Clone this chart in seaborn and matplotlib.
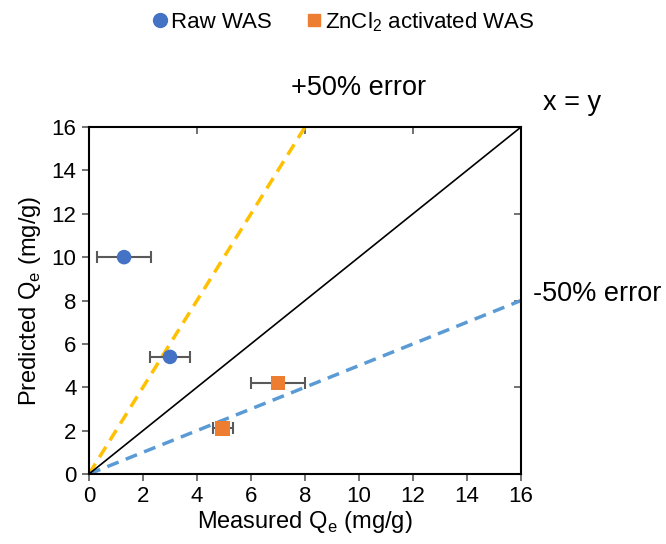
import matplotlib
matplotlib.use("Agg")
import matplotlib.pyplot as plt
import seaborn as sns
import pandas as pd
from matplotlib.lines import Line2D

# Data
raw_measured = [1.3, 3.0]
raw_predicted = [10.0, 5.4]
raw_xerr = [1.0, 0.75]

zn_measured = [7.0, 4.95]
zn_predicted = [4.2, 2.1]
zn_xerr = [1.0, 0.37]

line_xy_x = [0, 16]
line_xy_y = [0, 16]
line_plus_x = [0, 8]
line_plus_y = [0, 16]
line_minus_x = [0, 16]
line_minus_y = [0, 8]

axis_ticks = [0, 2, 4, 6, 8, 10, 12, 14, 16]
minor_ticks = [4, 8, 12]

sns.set_theme(style="white")
plt.rcParams['font.family'] = ['Liberation Sans', 'DejaVu Sans']
plt.rcParams['mathtext.fontset'] = 'custom'
plt.rcParams['mathtext.rm'] = 'Liberation Sans'
plt.rcParams['text.color'] = 'black'
plt.rcParams['axes.labelcolor'] = 'black'
plt.rcParams['xtick.labelcolor'] = 'black'
plt.rcParams['ytick.labelcolor'] = 'black'

fig = plt.figure(figsize=(6.66, 5.44), dpi=100)
ax = fig.add_axes([0.1336, 0.1287, 0.6487, 0.6378])

# reference lines
sns.lineplot(x=line_plus_x, y=line_plus_y, ax=ax, color='#FFC000', lw=2.5,
             linestyle=(0, (3.5, 2.2)), zorder=2)
sns.lineplot(x=line_minus_x, y=line_minus_y, ax=ax, color='#5B9BD5', lw=2.5,
             linestyle=(0, (3.5, 2.2)), zorder=2)
sns.lineplot(x=line_xy_x, y=line_xy_y, ax=ax, color='black', lw=1.2, zorder=2)

# error bars
ax.errorbar(raw_measured, raw_predicted, xerr=raw_xerr, fmt='none',
            ecolor='#595959', elinewidth=1.5, capsize=4, capthick=1.5, zorder=3)
ax.errorbar(zn_measured, zn_predicted, xerr=zn_xerr, fmt='none',
            ecolor='#595959', elinewidth=1.5, capsize=4, capthick=1.5, zorder=3)

df_raw = pd.DataFrame({'m': raw_measured, 'p': raw_predicted})
df_zn = pd.DataFrame({'m': zn_measured, 'p': zn_predicted})
sns.scatterplot(data=df_raw, x='m', y='p', ax=ax, color='#4472C4', marker='o',
                s=110, edgecolor='none', zorder=4)
sns.scatterplot(data=df_zn, x='m', y='p', ax=ax, color='#ED7D31', marker='s',
                s=110, edgecolor='none', zorder=4)

ax.set_xlim(0, 16)
ax.set_ylim(0, 16)
ax.set_xticks(axis_ticks)
ax.set_yticks(axis_ticks)
ax.tick_params(axis='both', labelsize=16, direction='out', length=5,
               width=1.2, color='#595959', pad=4, left=True, bottom=True)
for s in ax.spines.values():
    s.set_color('black')
    s.set_linewidth(1.5)
    s.set_visible(True)

ax.set_xlabel(r"Measured Q$_\mathregular{e}$ (mg/g)", fontsize=17, labelpad=1)
ax.set_ylabel(r"Predicted Q$_\mathregular{e}$ (mg/g)", fontsize=17, labelpad=6)

# secondary inward ticks on top and right (no labels)
secx = ax.secondary_xaxis('top')
secx.set_xticks(minor_ticks, labels=['' for _ in minor_ticks])
secy = ax.secondary_yaxis('right')
secy.set_yticks(minor_ticks, labels=['' for _ in minor_ticks])
for sec in (secx, secy):
    sec.tick_params(direction='in', length=5, width=1.2, color='#595959')
    for s in sec.spines.values():
        s.set_visible(False)

ax.text(7.5, 17.8, "+50% error", fontsize=19.5, va='center', ha='left', clip_on=False)
ax.text(16.8, 17.1, "x = y", fontsize=19.5, va='center', ha='left', clip_on=False)
ax.text(16.45, 8.3, "-50% error", fontsize=19.5, va='center', ha='left', clip_on=False)

handles = [
    Line2D([], [], marker='o', color='#4472C4', linestyle='none', markersize=10),
    Line2D([], [], marker='s', color='#ED7D31', linestyle='none', markersize=9),
]
fig.legend(handles, ["Raw WAS", r"ZnCl$_2$ activated WAS"], loc='center',
           bbox_to_anchor=(0.513, 0.96), ncol=2, frameon=False, fontsize=16,
           handletextpad=0.0, columnspacing=1.4, handlelength=1.0)

fig.savefig("out.png", dpi=100)
